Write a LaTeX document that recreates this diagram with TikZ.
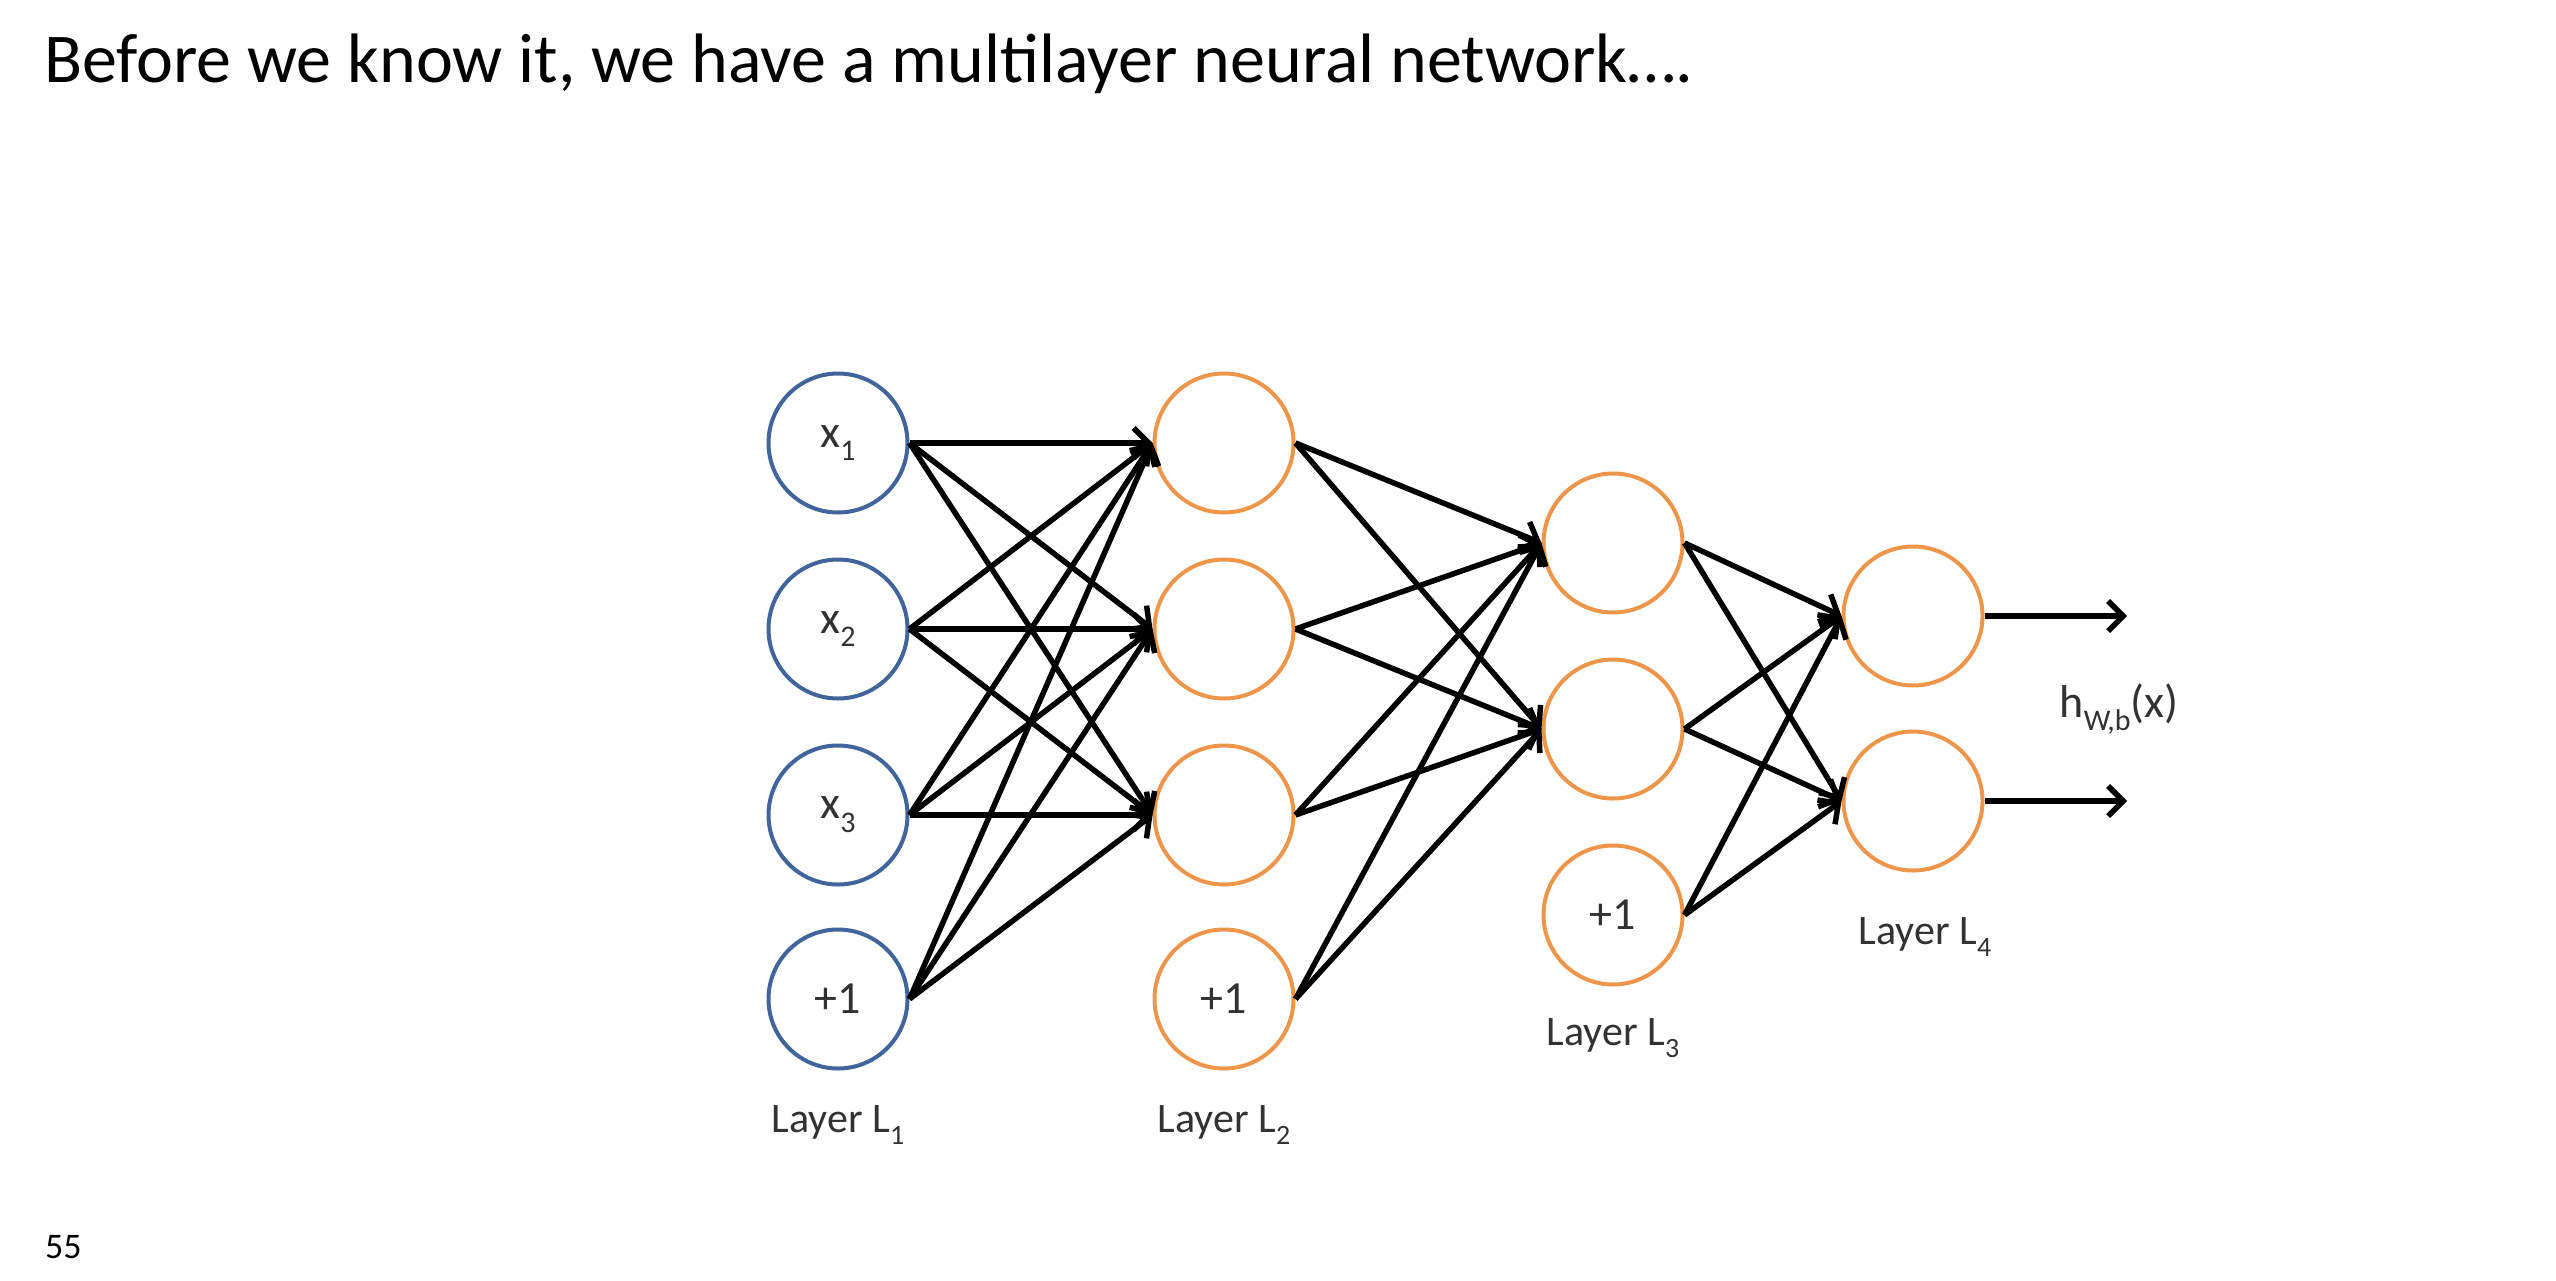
\documentclass[tikz,border=0pt]{standalone}
\usepackage{fontspec}
\setmainfont{Carlito}
\usetikzlibrary{arrows.meta}
\definecolor{inblue}{RGB}{65,100,155}
\definecolor{hidorange}{RGB}{237,150,75}
\definecolor{labelgray}{RGB}{50,50,50}
\newcommand\lowidx[2][30]{\raisebox{-0.3em}{\fontsize{#1}{#1}\selectfont #2}}

\begin{document}
\begin{tikzpicture}[x=1pt,y=-1pt,
  unit/.style={circle, draw, line width=4pt, minimum size=139pt, inner sep=0pt,
               text=labelgray, font=\fontsize{46}{48}\selectfont},
  inunit/.style={unit, draw=inblue},
  hidunit/.style={unit, draw=hidorange},
  edge/.style={line width=5.5pt, -{Straight Barb[length=15pt,width=30pt,line width=5.5pt]}},
  layerlbl/.style={text=labelgray, font=\fontsize{42}{44}\selectfont, inner sep=0pt}]
\useasboundingbox (0,0) rectangle (2556,1280);

% heading and page number
\node[anchor=base west, inner sep=0pt, font=\fontsize{70}{84}\selectfont] (title) at (44,82)
  {Before we know it, we have a multilayer neural network….};
\node[anchor=base west, inner sep=0pt, font=\fontsize{36}{40}\selectfont] (pageno) at (45,1258) {55};

% layer 1 (inputs)
\node[inunit] (x1) at (838,443) {x\lowidx{1}};
\node[inunit] (x2) at (838,629) {x\lowidx{2}};
\node[inunit] (x3) at (838,815) {x\lowidx{3}};
\node[inunit] (b1) at (838,999) {+1};

% layer 2
\node[hidunit] (h1) at (1224,443) {};
\node[hidunit] (h2) at (1224,629) {};
\node[hidunit] (h3) at (1224,815) {};
\node[hidunit] (b2) at (1224,999) {+1};

% layer 3
\node[hidunit] (g1) at (1613,543) {};
\node[hidunit] (g2) at (1613,729) {};
\node[hidunit] (b3) at (1613,915) {+1};

% layer 4 (outputs)
\node[hidunit] (o1) at (1913,616) {};
\node[hidunit] (o2) at (1913,801) {};

\coordinate (out1) at (2127,616);
\coordinate (out2) at (2127,801);

% layer labels
\node[layerlbl] (lab1) at (838,1125) {Layer L\lowidx[28]{1}};
\node[layerlbl] (lab2) at (1224,1125) {Layer L\lowidx[28]{2}};
\node[layerlbl] (lab3) at (1613,1038) {Layer L\lowidx[28]{3}};
\node[layerlbl] (lab4) at (1925,937) {Layer L\lowidx[28]{4}};
\node[layerlbl, font=\fontsize{46}{48}\selectfont] (hyp) at (2119,709) {h\lowidx{W,b}(x)};

% connections
\foreach \s in {x1,x2,x3,b1}
  \foreach \t in {h1,h2,h3}
    \draw[edge] (\s.east) -- (\t.west);
\foreach \s in {h1,h2,h3,b2}
  \foreach \t in {g1,g2}
    \draw[edge] (\s.east) -- (\t.west);
\foreach \s in {g1,g2,b3}
  \foreach \t in {o1,o2}
    \draw[edge] (\s.east) -- (\t.west);
\draw[edge] (o1.east) -- (out1);
\draw[edge] (o2.east) -- (out2);
\end{tikzpicture}
\end{document}
